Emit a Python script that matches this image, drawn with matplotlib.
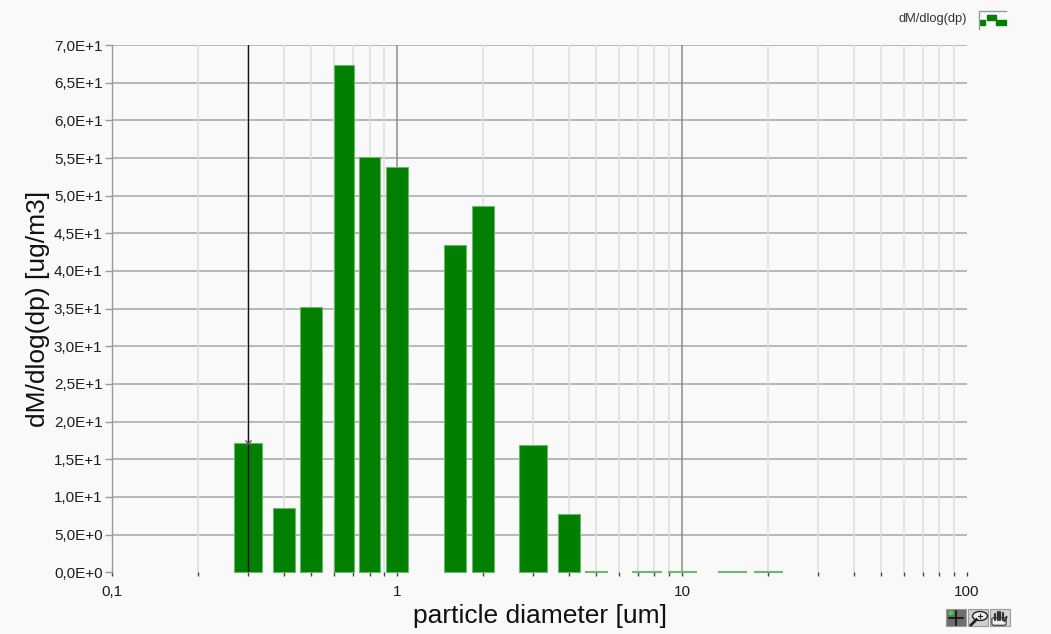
import numpy as np
import matplotlib
matplotlib.use("Agg")
import matplotlib.pyplot as plt
from matplotlib.ticker import FixedLocator, LogLocator, NullFormatter, FuncFormatter
from matplotlib.patches import Rectangle, Circle, FancyBboxPatch
from matplotlib.lines import Line2D

# Channel diameters [um] and mass distribution dM/dlog(dp) [ug/m3]
diameters = [0.3, 0.4, 0.5, 0.65, 0.8, 1.0, 1.6, 2.0, 3.0, 4.0, 5.0, 7.5, 10.0, 15.0, 20.0]
dm_dlogdp = [17.2, 8.5, 35.2, 67.4, 55.1, 53.8, 43.4, 48.6, 16.9, 7.8, 0.2, 0.2, 0.2, 0.2, 0.2]
y_ticks = [0, 5, 10, 15, 20, 25, 30, 35, 40, 45, 50, 55, 60, 65, 70]
x_tick_labels = {0.1: "0,1", 1.0: "1", 10.0: "10", 100.0: "100"}
cursor_diameter = 0.3

plt.rcParams["font.family"] = ["Liberation Sans", "DejaVu Sans"]
bg = "#f9f9f9"
W, H = 1051, 634

fig = plt.figure(figsize=(W / 100, H / 100), dpi=100, facecolor=bg)
ax = fig.add_axes([0.1068, 0.0973, 0.8132, 0.8317], facecolor=bg)

# bar widths in log space: a fraction of the narrowest gap to the neighbouring channels
logd = np.log10(diameters)
gaps = np.diff(logd)
near = np.array([gaps[0]] + [min(gaps[i - 1], gaps[i]) for i in range(1, len(gaps))] + [gaps[-1]])
half = 0.4 * near
lefts = 10 ** (logd - half)
rights = 10 ** (logd + half)

for l, r, v in zip(lefts, rights, dm_dlogdp):
    ax.bar(l, v, width=r - l, align="edge", color="#007f00",
           edgecolor="#6cb86c", linewidth=0.8, zorder=3, clip_on=False)

ax.set_xscale("log")
ax.set_xlim(0.1, 100)
ax.set_ylim(0, 70)

# grid
for yv in y_ticks[1:]:
    ax.axhline(yv, color="#a6a6a6", lw=1.1, zorder=1)
minor = [m * 10.0 ** e for e in (-1, 0, 1) for m in range(2, 10)]
for xv in minor:
    ax.axvline(xv, color="#dedede", lw=1.1, zorder=1)
for xv in (1.0, 10.0):
    ax.axvline(xv, color="#8c8c8c", lw=1.1, zorder=1)

# cursor line with marker at the bar top
ax.axvline(cursor_diameter, color="#111111", lw=1.0, zorder=5)
ax.plot([cursor_diameter], [dm_dlogdp[0]], marker="x", ms=5, mew=1.0,
        color="#555555", zorder=6)

for s in ("top", "right", "bottom"):
    ax.spines[s].set_visible(False)
ax.spines["left"].set_color("#9a9a9a")
ax.spines["left"].set_linewidth(1.0)

ax.yaxis.set_major_locator(FixedLocator(y_ticks))
ax.yaxis.set_major_formatter(FuncFormatter(
    lambda v, p: ("%.1fE+1" % (v / 10)).replace(".", ",") if v >= 10 else
    ("%.1fE+0" % v).replace(".", ",")))
ax.tick_params(axis="y", length=5, width=1, color="#9a9a9a", pad=2,
               labelsize=11, labelcolor="#1c1c28")

ax.xaxis.set_major_locator(FixedLocator(list(x_tick_labels.keys())))
ax.xaxis.set_major_formatter(FuncFormatter(lambda v, p: x_tick_labels.get(round(v, 6), "")))
ax.xaxis.set_minor_locator(LogLocator(base=10, subs=range(2, 10)))
ax.xaxis.set_minor_formatter(NullFormatter())
ax.tick_params(axis="x", which="both", length=3, width=1, color="#444444",
               pad=6, labelsize=11, labelcolor="#1c1c28")

ax.set_xlabel("particle diameter [um]", fontsize=19, color="#111111", labelpad=4)
ax.set_ylabel("dM/dlog(dp) [ug/m3]", fontsize=19, color="#111111", labelpad=3)


def px(x, y):
    return x / W, 1 - y / H


def fbox(x, y, w, h, **kw):
    fig.patches.append(Rectangle((x / W, 1 - (y + h) / H), w / W, h / H,
                                 transform=fig.transFigure, **kw))


def fline(xs, ys, **kw):
    fig.add_artist(Line2D([x / W for x in xs], [1 - y / H for y in ys], **kw))


# legend entry in the top right corner
fig.text(*px(967, 19), "dM/dlog(dp)", ha="right", va="center",
         fontsize=9.3, color="#333333")
fline([979, 979, 1006], [29, 11, 11], color="#999999", lw=1)
fbox(980, 20, 5, 5, color="#007f00")
fbox(987, 15, 9, 4.5, color="#007f00")
fbox(996, 19.5, 10, 5.5, color="#007f00")

# toolbar buttons in the bottom right corner
fbox(946, 609, 20, 17, facecolor="#6e6e6e", edgecolor="#9a9a9a", lw=0.8)
fbox(968, 609, 20, 17, facecolor="#cfcfcf", edgecolor="#9a9a9a", lw=0.8)
fbox(990, 609, 20, 17, facecolor="#d4d4d4", edgecolor="#9a9a9a", lw=0.8)
# crosshair
fline([949, 963], [618, 618], color="#111111", lw=1.2)
fline([956, 956], [611, 625], color="#111111", lw=1.2)
fbox(949, 611, 3, 3, color="#3cd23c")
# magnifier
fig.patches.append(Circle(px(980, 616), 4.5 / H, transform=fig.transFigure,
                          facecolor="#eeeeee", edgecolor="#222222", lw=1.0))
fline([978, 982], [616, 616], color="#222222", lw=0.8)
fline([980, 980], [614, 618], color="#222222", lw=0.8)
fline([976.5, 971], [619.5, 625], color="#222222", lw=2.0)
# hand
for fx, top in ((995, 614), (997.5, 612), (1000, 612), (1002.5, 613)):
    fline([fx, fx], [top, 620], color="#333333", lw=1.6, solid_capstyle="round")
fig.patches.append(FancyBboxPatch(px(994, 624), 10 / W, 5 / H,
                                  boxstyle="round,pad=0.002",
                                  transform=fig.transFigure,
                                  facecolor="#eeeeee", edgecolor="#333333", lw=0.8))
fline([1004.5, 1006.5], [621, 617], color="#333333", lw=1.4)

fig.savefig("out.png", dpi=100, facecolor=bg)
